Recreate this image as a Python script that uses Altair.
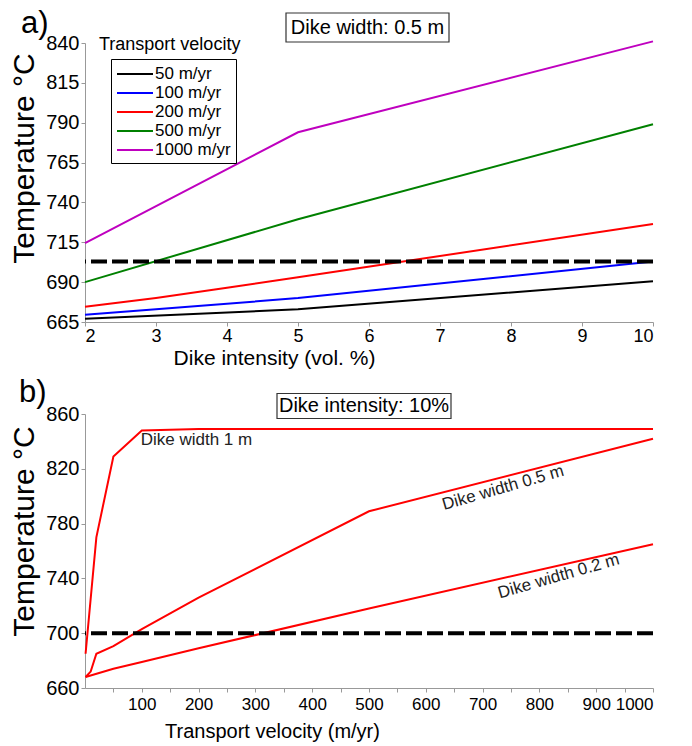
import altair as alt
import pandas as pd

FONT_REG = "Liberation Sans, Arial, sans-serif"

# ---------------- Panel a) data ----------------
intensity = [2, 5, 10]
intensity_red = [2, 3, 4, 5, 10]
temp_50 = [667, 673, 690.5]
temp_100 = [669.5, 680, 703]
temp_200 = [674.5, 680, 686.5, 693, 726.5]
temp_500 = [690, 729.5, 789]
temp_1000 = [714.5, 784, 841]
velocity_labels = ["50 m/yr", "100 m/yr", "200 m/yr", "500 m/yr", "1000 m/yr"]
velocity_colors = ["#000000", "#0000FF", "#FF0000", "#008000", "#BF00BF"]
threshold_top = 703
top_xticks = [2, 3, 4, 5, 6, 7, 8, 9, 10]
top_yticks = [665, 690, 715, 740, 765, 790, 815, 840]

# ---------------- Panel b) data ----------------
vel_1m = [1, 20, 50, 100, 200, 500, 1000]
temp_1m = [685, 770, 829, 848, 849, 849, 849]
vel_05m = [1, 10, 20, 50, 100, 200, 500, 1000]
temp_05m = [668, 672, 685, 690.5, 703, 726, 789, 842]
vel_02m = [1, 50, 100, 200, 500, 1000]
temp_02m = [668, 674, 679, 689, 718, 765]
threshold_bottom = 700
bottom_xticks = list(range(50, 1001, 50))
bottom_yticks = [660, 700, 740, 780, 820, 860]
label_text = ["Dike width 0.5 m", "Dike width 0.2 m"]
label_x = [736, 834]
label_y = [806, 741.5]

# ---------------- build tables ----------------
rows = []
for lab, xs, ts in zip(
    velocity_labels,
    [intensity, intensity, intensity_red, intensity, intensity],
    [temp_50, temp_100, temp_200, temp_500, temp_1000],
):
    for x, t in zip(xs, ts):
        rows.append({"intensity": x, "temp": t, "velocity": lab})
df_top = pd.DataFrame(rows)

rows = []
for lab, xs, ts in zip(["1 m", "0.5 m", "0.2 m"], [vel_1m, vel_05m, vel_02m], [temp_1m, temp_05m, temp_02m]):
    for x, t in zip(xs, ts):
        rows.append({"vel": x, "temp": t, "width": lab})
df_bot = pd.DataFrame(rows)
df_lab = pd.DataFrame({"x": label_x, "y": label_y, "text": label_text})
one = alt.Data(values=[{"a": 1}])

W = 568
H_TOP = 279
H_BOT = 274

# ---------------- Panel a ----------------
xs_top = alt.Scale(domain=[2, 10], nice=False, zero=False)
ys_top = alt.Scale(domain=[665, 840], nice=False, zero=False)

lines_top = alt.Chart(df_top).mark_line(strokeWidth=2).encode(
    x=alt.X("intensity:Q", scale=xs_top,
            axis=alt.Axis(values=top_xticks, tickCount=50, title="Dike intensity (vol. %)", format="d",
                          labelFont=FONT_REG, labelFontSize=18, labelPadding=1, tickSize=4,
                          labelOverlap=False,
                          titleFont=FONT_REG, titleFontSize=21, titlePadding=2, titleX=189)),
    y=alt.Y("temp:Q", scale=ys_top,
            axis=alt.Axis(values=top_yticks, tickCount=50, title="Temperature °C", format="d",
                          labelFont=FONT_REG, labelFontSize=20, labelPadding=2, tickSize=4,
                          labelOverlap=False,
                          titleFont=FONT_REG, titleFontSize=30, titlePadding=6, titleY=115)),
    color=alt.Color("velocity:N", sort=velocity_labels,
                    scale=alt.Scale(domain=velocity_labels, range=velocity_colors),
                    legend=alt.Legend(title=None, orient="none", legendX=26, legendY=16,
                                      strokeColor="black", fillColor="white", padding=5,
                                      symbolType="M-2,0H2", symbolSize=324, symbolStrokeWidth=2,
                                      symbolOffset=9,
                                      labelFont=FONT_REG, labelFontSize=17, rowPadding=1,
                                      labelOffset=10)),
    order=alt.Order("intensity:Q"),
)

thr_top = alt.Chart(one).mark_rule(color="black", strokeWidth=4, strokeDash=[16, 5]).encode(
    y=alt.datum(threshold_top, scale=ys_top)
)

legend_title = alt.Chart(one).mark_text(
    text="Transport velocity", font=FONT_REG, fontSize=18, align="left", baseline="alphabetic"
).encode(x=alt.value(14), y=alt.value(7))

box_top = alt.Chart(one).mark_rect(fill="white", stroke="#333", strokeWidth=1.2).encode(
    x=alt.value(201), x2=alt.value(364), y=alt.value(-30), y2=alt.value(-1)
)
box_top_text = alt.Chart(one).mark_text(
    text="Dike width: 0.5 m", font=FONT_REG, fontSize=20, align="center", baseline="middle"
).encode(x=alt.value(282.5), y=alt.value(-15))
tag_a = alt.Chart(one).mark_text(
    text="a)", font=FONT_REG, fontSize=31, align="left", baseline="alphabetic"
).encode(x=alt.value(-64), y=alt.value(-10))

top = alt.layer(lines_top, thr_top, legend_title, box_top, box_top_text, tag_a).properties(
    width=W, height=H_TOP
)

# ---------------- Panel b ----------------
xs_bot = alt.Scale(domain=[0, 1000], nice=False, zero=False)
ys_bot = alt.Scale(domain=[660, 860], nice=False, zero=False)

lines_bot = alt.Chart(df_bot).mark_line(strokeWidth=2, color="#FF0000").encode(
    x=alt.X("vel:Q", scale=xs_bot,
            axis=alt.Axis(values=bottom_xticks, tickCount=50, title="Transport velocity (m/yr)", format="d",
                          labelExpr="datum.value % 100 === 0 ? datum.label : ''",
                          labelOverlap=False,
                          labelFont=FONT_REG, labelFontSize=17, labelPadding=4, tickSize=4,
                          titleFont=FONT_REG, titleFontSize=20, titlePadding=9, titleX=187)),
    y=alt.Y("temp:Q", scale=ys_bot,
            axis=alt.Axis(values=bottom_yticks, tickCount=50, title="Temperature °C", format="d",
                          labelFont=FONT_REG, labelFontSize=20, labelPadding=2, tickSize=4,
                          labelOverlap=False,
                          titleFont=FONT_REG, titleFontSize=30, titlePadding=6, titleY=117)),
    detail="width:N",
    order=alt.Order("vel:Q"),
)

thr_bot = alt.Chart(one).mark_rule(color="black", strokeWidth=4, strokeDash=[16, 5]).encode(
    y=alt.datum(threshold_bottom, scale=ys_bot)
)

lab_1m = alt.Chart(one).mark_text(
    text="Dike width 1 m", font=FONT_REG, fontSize=17, align="left", baseline="middle", color="#222"
).encode(x=alt.datum(98, scale=xs_bot), y=alt.datum(841, scale=ys_bot))

lab_rot = alt.Chart(df_lab).mark_text(
    font=FONT_REG, fontSize=17, align="center", baseline="middle", angle=344, color="#222"
).encode(x=alt.X("x:Q", scale=xs_bot), y=alt.Y("y:Q", scale=ys_bot), text="text:N")

box_bot = alt.Chart(one).mark_rect(fill="white", stroke="#333", strokeWidth=1.2).encode(
    x=alt.value(192), x2=alt.value(366), y=alt.value(-20.5), y2=alt.value(4.5)
)
box_bot_text = alt.Chart(one).mark_text(
    text="Dike intensity: 10%", font=FONT_REG, fontSize=20, align="center", baseline="middle"
).encode(x=alt.value(279), y=alt.value(-8))
tag_b = alt.Chart(one).mark_text(
    text="b)", font=FONT_REG, fontSize=31, align="left", baseline="alphabetic"
).encode(x=alt.value(-66), y=alt.value(-12))

bottom = alt.layer(lines_bot, thr_bot, lab_1m, lab_rot, box_bot, box_bot_text, tag_b).properties(
    width=W, height=H_BOT
)

chart = alt.vconcat(top, bottom, spacing=9).properties(
    padding={"left": 9, "top": 8, "right": 10, "bottom": 5}
).configure_view(stroke=None).configure_axis(
    grid=False, domainColor="#999", tickColor="#999", labelColor="black",
    titleColor="black", titleFontWeight="normal", labelOverlap=False
)

chart.save("out.html", embed_options={"renderer": "svg", "actions": False})
